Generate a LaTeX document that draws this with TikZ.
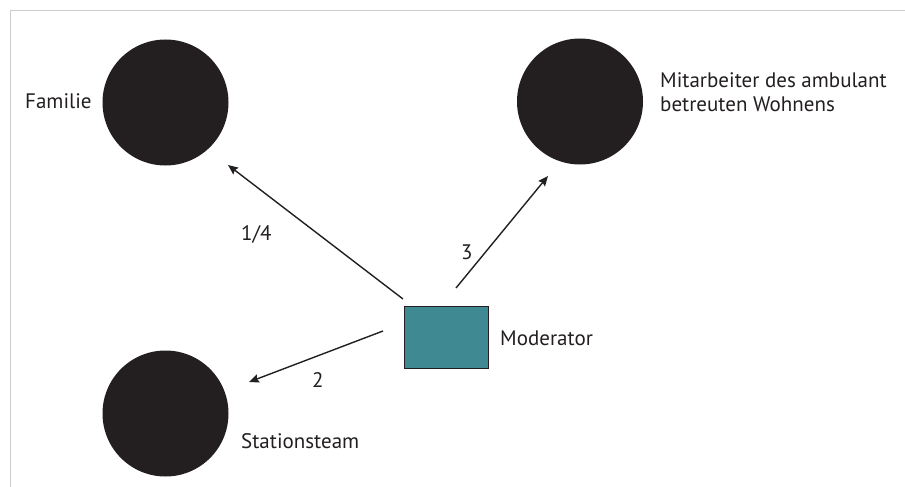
\documentclass[tikz,border=0pt]{standalone}
\usepackage{fontspec}
\setmainfont{PT Sans}
\usetikzlibrary{arrows.meta}
\definecolor{ink}{HTML}{231F20}
\definecolor{teal}{HTML}{3F8A92}
\definecolor{frame}{HTML}{CCCCCC}
\tikzset{
  party/.style={circle, fill=ink, minimum size=126pt, inner sep=0pt},
  modbox/.style={rectangle, fill=teal, draw=ink, line width=1pt, minimum width=84pt, minimum height=62pt, inner sep=0pt},
  lbl/.style={font=\fontsize{21}{24}\selectfont, text=ink, inner sep=0pt, anchor=base west},
  conn/.style={draw=ink, line width=1.4pt, -{Stealth[length=10pt,width=8.5pt,inset=1.5pt]}}
}
\begin{document}
\begin{tikzpicture}[x=1pt,y=-1pt]
\useasboundingbox (0,0) rectangle (905,487);
\draw[frame, line width=1pt] (10.5,487) -- (10.5,10.5) -- (905,10.5);
\node[party] (fam) at (165.5,102.5) {};
\node[party] (mit) at (580,101.5) {};
\node[party] (sta) at (165.5,413.5) {};
\node[modbox] (mod) at (446,337) {};
\node[lbl] (tfam) at (25,108.3) {Familie};
\node[lbl, align=left] (tmit) at (660,111.7) {Mitarbeiter des ambulant\\betreuten Wohnens};
\node[lbl] (tmod) at (500,345) {Moderator};
\node[lbl] (tsta) at (241,448) {Stationsteam};
\coordinate (s1) at (403,299);
\coordinate (e1) at (228,165);
\coordinate (s3) at (456,288);
\coordinate (e3) at (548,176);
\coordinate (s2) at (383,331);
\coordinate (e2) at (249,382);
\draw[conn] (s1) -- (e1);
\draw[conn] (s3) -- (e3);
\draw[conn] (s2) -- (e2);
\node[lbl] (l1) at (241,240) {1/4};
\node[lbl] (l3) at (461,259) {3};
\node[lbl] (l2) at (312,387) {2};
\end{tikzpicture}
\end{document}
